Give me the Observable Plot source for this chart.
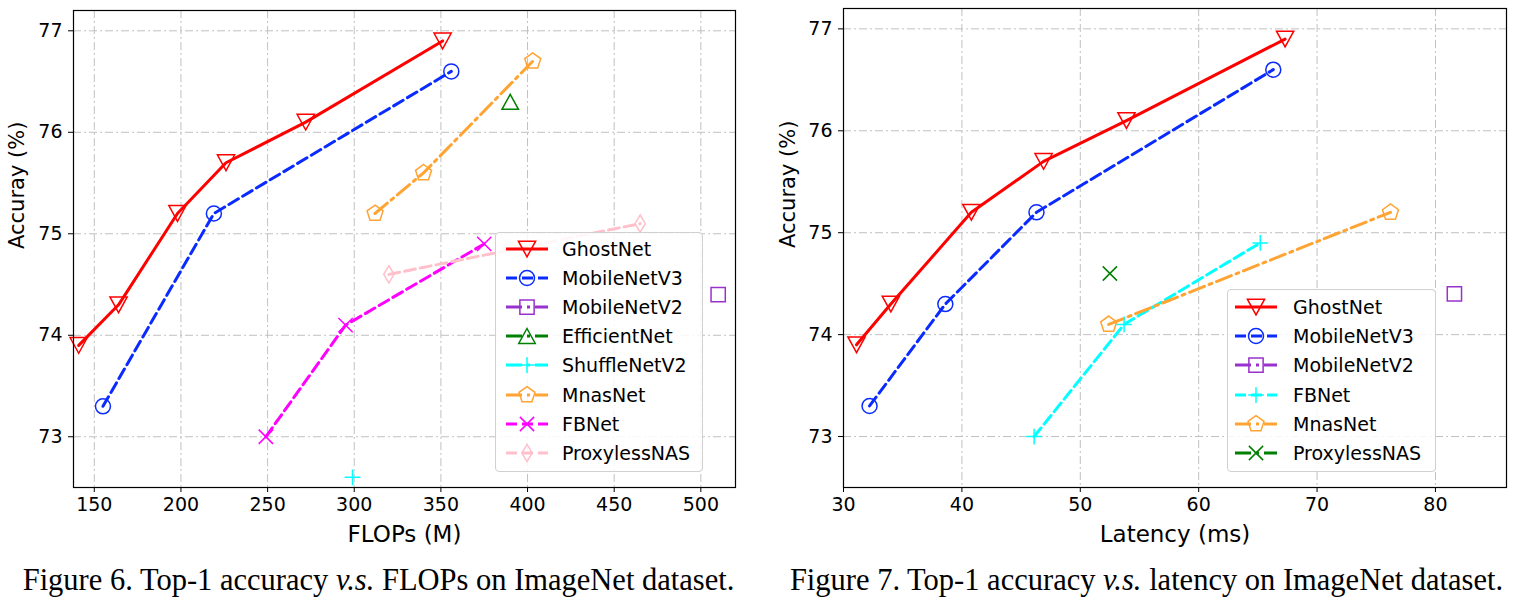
<!DOCTYPE html>
<html><head><meta charset="utf-8">
<script src="https://cdn.jsdelivr.net/npm/d3@7"></script>
<script src="https://cdn.jsdelivr.net/npm/@observablehq/plot@0.6"></script>
<style>
body{margin:0;background:#fff;font-family:"DejaVu Sans",sans-serif;}
#wrap{position:relative;width:1514px;height:602px;display:flex;}
.panel{position:relative;width:757px;height:602px;}
.panel svg{display:block;}
.cap{font-family:"Liberation Serif",serif;font-size:30.5px;text-align:center;margin-top:13px;line-height:34px;white-space:nowrap;color:#000;}
.legend{position:absolute;border:1px solid #d0d0d0;border-radius:4px;background:rgba(255,255,255,0.85);box-sizing:border-box;}
.row{position:absolute;height:28px;display:flex;align-items:center;font-size:19px;color:#000;white-space:nowrap;}
.row svg{position:absolute;top:0;}
.row span{position:absolute;}
</style></head><body>
<div id="wrap"><div class="panel" id="p1"></div><div class="panel" id="p2"></div></div>
<script>
// ---------- data ----------
const flopsTicks = [150, 200, 250, 300, 350, 400, 450, 500];
const latTicks = [30, 40, 50, 60, 70, 80];
const accTicks = [73, 74, 75, 76, 77];

// Figure 6: accuracy vs FLOPs (M)
const ghostFlops = [141, 164, 198, 226, 272, 351];
const ghostFlopsAcc = [73.9, 74.3, 75.2, 75.7, 76.1, 76.9];
const mbv3Flops = [155, 219, 356];
const mbv3FlopsAcc = [73.3, 75.2, 76.6];
const mbv2Flops = [510];
const mbv2FlopsAcc = [74.4];
const effFlops = [390];
const effFlopsAcc = [76.3];
const shuffleFlops = [299];
const shuffleFlopsAcc = [72.6];
const mnasFlops = [312, 340, 403];
const mnasFlopsAcc = [75.2, 75.6, 76.7];
const fbFlops = [249, 295, 375];
const fbFlopsAcc = [73.0, 74.1, 74.9];
const proxFlops = [320, 465];
const proxFlopsAcc = [74.6, 75.1];

// Figure 7: accuracy vs latency (ms)
const ghostLat = [31.1, 34.0, 40.8, 46.9, 53.9, 67.3];
const ghostLatAcc = [73.9, 74.3, 75.2, 75.7, 76.1, 76.9];
const mbv3Lat = [32.2, 38.6, 46.3, 66.3];
const mbv3LatAcc = [73.3, 74.3, 75.2, 76.6];
const mbv2Lat = [81.6];
const mbv2LatAcc = [74.4];
const fbLat = [46.1, 53.7, 65.2];
const fbLatAcc = [73.0, 74.1, 74.9];
const mnasLat = [52.4, 76.2];
const mnasLatAcc = [74.1, 75.2];
const proxLat = [52.5];
const proxLatAcc = [74.6];

// ---------- symbols ----------
function sym(fn){return {draw(ctx,size){const r=Math.sqrt(size/Math.PI); fn(ctx,r);}};}
const triDown = sym((c,r)=>{const w=r*1.15,h=r*1.05;c.moveTo(-w,-h);c.lineTo(w,-h);c.lineTo(0,h);c.closePath();});
const triUp = sym((c,r)=>{const w=r*1.1,h=r*1.0;c.moveTo(0,-h);c.lineTo(w,h);c.lineTo(-w,h);c.closePath();});
const circ = sym((c,r)=>{c.moveTo(r,0);c.arc(0,0,r,0,2*Math.PI);});
const square = sym((c,r)=>{const s=r*0.95;c.moveTo(-s,-s);c.lineTo(s,-s);c.lineTo(s,s);c.lineTo(-s,s);c.closePath();});
const pent = sym((c,r)=>{const q=r*1.12;for(let k=0;k<5;k++){const a=-Math.PI/2+k*2*Math.PI/5;const px=q*Math.cos(a),py=q*Math.sin(a);k?c.lineTo(px,py):c.moveTo(px,py);}c.closePath();});
const thinDiamond = sym((c,r)=>{const h=r*1.15;c.moveTo(0,-h);c.lineTo(h*0.6,0);c.lineTo(0,h);c.lineTo(-h*0.6,0);c.closePath();});
const plus = sym((c,r)=>{const s=r*1.05;c.moveTo(-s,0);c.lineTo(s,0);c.moveTo(0,-s);c.lineTo(0,s);});
const cross = sym((c,r)=>{const s=r*0.95;c.moveTo(-s,-s);c.lineTo(s,s);c.moveTo(-s,s);c.lineTo(s,-s);});

const R = 7.5;
const DASH = "11,5";
const DASHDOT = "16,5,3,5";

function rows(xs, ys){return xs.map((x,i)=>({x, y: ys[i]}));}

const fig6 = [
  {name:"GhostNet", data:rows(ghostFlops, ghostFlopsAcc), color:"#ff0000", symbol:triDown, dash:null},
  {name:"MobileNetV3", data:rows(mbv3Flops, mbv3FlopsAcc), color:"#0a2bff", symbol:circ, dash:DASH},
  {name:"MobileNetV2", data:rows(mbv2Flops, mbv2FlopsAcc), color:"#9932cc", symbol:square, dash:DASHDOT},
  {name:"EfficientNet", data:rows(effFlops, effFlopsAcc), color:"#008000", symbol:triUp, dash:DASHDOT},
  {name:"ShuffleNetV2", data:rows(shuffleFlops, shuffleFlopsAcc), color:"#00ffff", symbol:plus, dash:DASHDOT},
  {name:"MnasNet", data:rows(mnasFlops, mnasFlopsAcc), color:"#ffa333", symbol:pent, dash:DASHDOT},
  {name:"FBNet", data:rows(fbFlops, fbFlopsAcc), color:"#ff00ff", symbol:cross, dash:DASH},
  {name:"ProxylessNAS", data:rows(proxFlops, proxFlopsAcc), color:"#ffc0cb", symbol:thinDiamond, dash:DASH}
];
const fig7 = [
  {name:"GhostNet", data:rows(ghostLat, ghostLatAcc), color:"#ff0000", symbol:triDown, dash:null},
  {name:"MobileNetV3", data:rows(mbv3Lat, mbv3LatAcc), color:"#0a2bff", symbol:circ, dash:DASH},
  {name:"MobileNetV2", data:rows(mbv2Lat, mbv2LatAcc), color:"#9932cc", symbol:square, dash:DASHDOT},
  {name:"FBNet", data:rows(fbLat, fbLatAcc), color:"#00ffff", symbol:plus, dash:DASH},
  {name:"MnasNet", data:rows(mnasLat, mnasLatAcc), color:"#ffa333", symbol:pent, dash:DASHDOT},
  {name:"ProxylessNAS", data:rows(proxLat, proxLatAcc), color:"#008000", symbol:cross, dash:DASHDOT}
];

const GRID = {stroke:"#c0c0c0", strokeOpacity:1, strokeWidth:1, strokeDasharray:"8,3,2,3"};

function chart(series, opts){
  const marks = [
    Plot.gridX(opts.xTicks, GRID),
    Plot.gridY(accTicks, GRID),
    Plot.axisX(opts.xTicks, {tickSize:5, tickPadding:5, fontSize:19, label:null, tickFormat:d=>String(d)}),
    Plot.axisY(accTicks, {tickSize:5, tickPadding:6, fontSize:19, label:null, tickFormat:d=>String(d)}),
    Plot.text([opts.xLabel], {text:d=>d, frameAnchor:"bottom", dy:54, fontSize:23}),
    Plot.text(["Accuray (%)"], {text:d=>d, frameAnchor:"left", rotate:-90, dx:opts.yLabelDx, fontSize:21}),
  ];
  for (const s of series) {
    if (s.data.length > 1) marks.push(Plot.line(s.data, {x:"x", y:"y", stroke:s.color, strokeWidth:3, strokeDasharray:s.dash}));
  }
  for (const s of series) {
    marks.push(Plot.dot(s.data, {x:"x", y:"y", symbol:s.symbol, r:R, stroke:s.color, fill:"none", strokeWidth:1.5}));
  }
  marks.push(Plot.frame({stroke:"black", strokeWidth:1.2}));
  return Plot.plot({
    width:757, height:550,
    marginLeft:opts.ml, marginRight:opts.mr, marginTop:opts.mt, marginBottom:63,
    style:{fontFamily:"DejaVu Sans", color:"black", background:"white", overflow:"visible"},
    x:{domain:opts.xDomain},
    y:{domain:[72.5, 77.2]},
    marks
  });
}

function legend(panel, series, box){
  const lg = document.createElement("div");
  lg.className = "legend";
  Object.assign(lg.style, {left:box.left+"px", top:box.top+"px", width:box.width+"px", height:box.height+"px"});
  series.forEach((s,i)=>{
    const row = document.createElement("div");
    row.className = "row";
    row.style.top = (box.first + i*box.step - 14) + "px";
    row.style.left = "0px";
    const sw = 42;
    const path = d3.symbol(s.symbol, Math.PI*R*R)();
    row.innerHTML = `<svg width="${sw}" height="28" style="left:${box.sampleX}px;overflow:visible">
      <line x1="0" y1="14" x2="${sw}" y2="14" stroke="${s.color}" stroke-width="3" ${s.dash?`stroke-dasharray="${s.dash}"`:""}/>
      <path d="${path}" transform="translate(${sw/2},14)" fill="none" stroke="${s.color}" stroke-width="1.5"/>
    </svg><span style="left:${box.textX}px">${s.name}</span>`;
    lg.appendChild(row);
  });
  panel.appendChild(lg);
}

const p1 = document.getElementById("p1");
p1.appendChild(chart(fig6, {xTicks:flopsTicks, xDomain:[138, 520], xLabel:"FLOPs (M)", ml:73, mr:22, mt:10, yLabelDx:-56}));
const c1 = document.createElement("div");
c1.className = "cap";
c1.innerHTML = "Figure 6. Top-1 accuracy <i>v.s.</i> FLOPs on ImageNet dataset.";
p1.appendChild(c1);
legend(p1, fig6, {left:495, top:232, width:208, height:240, first:16, step:29.1, sampleX:10, textX:66});

const p2 = document.getElementById("p2");
p2.appendChild(chart(fig7, {xTicks:latTicks, xDomain:[30, 86], xLabel:"Latency (ms)", ml:86, mr:8, mt:8, yLabelDx:-55}));
const c2 = document.createElement("div");
c2.className = "cap";
c2.style.paddingLeft = "22px";
c2.innerHTML = "Figure 7. Top-1 accuracy <i>v.s.</i> latency on ImageNet dataset.";
p2.appendChild(c2);
legend(p2, fig7, {left:470, top:289, width:209, height:183, first:17, step:29.2, sampleX:7, textX:65});
</script></body></html>
